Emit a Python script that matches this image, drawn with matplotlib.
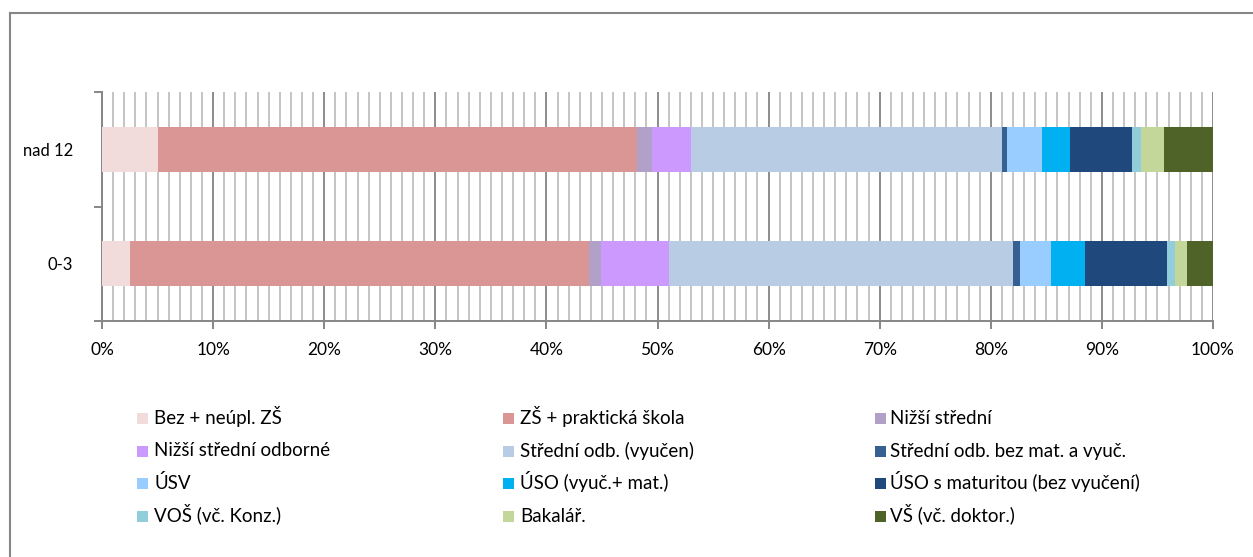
import matplotlib
matplotlib.use("Agg")
import matplotlib.pyplot as plt
from matplotlib.patches import Rectangle
from matplotlib.lines import Line2D
import numpy as np

plt.rcParams["font.family"] = ["Lato", "DejaVu Sans"]

# categories, bottom to top
categories = ["0-3", "nad 12"]

series_names = [
    "Bez + neúpl. ZŠ", "ZŠ + praktická škola", "Nižší střední",
    "Nižší střední odborné", "Střední odb. (vyučen)", "Střední odb. bez mat. a vyuč.",
    "ÚSV", "ÚSO (vyuč.+ mat.)", "ÚSO s maturitou (bez vyučení)",
    "VOŠ (vč. Konz.)", "Bakalář.", "VŠ (vč. doktor.)",
]
colors = [
    "#F2DCDB", "#DA9694", "#B1A0C7",
    "#CC99FF", "#B8CCE4", "#366092",
    "#99CCFF", "#00B0F0", "#1F497D",
    "#92CDDC", "#C4D79B", "#4F6228",
]

# shares in % for [0-3, nad 12]
values_0_3 = [2.52, 41.35, 1.05, 6.15, 30.96, 0.57, 2.84, 3.06, 7.40, 0.68, 1.11, 2.31]
values_nad12 = [5.00, 43.20, 1.35, 3.45, 28.05, 0.46, 3.10, 2.56, 5.55, 0.79, 2.10, 4.41]

data = np.array([values_0_3, values_nad12])
shares = data / data.sum(axis=1, keepdims=True)

W, H = 1253, 557
fig = plt.figure(figsize=(W / 100, H / 100), dpi=100)
ax = fig.add_axes([102 / W, 1 - 321 / H, 1111 / W, 229 / H])

ypos = np.arange(len(categories))
left = np.zeros(len(categories))
for i, name in enumerate(series_names):
    ax.barh(ypos, shares[:, i], left=left, height=0.39, color=colors[i],
            label=name, zorder=3, linewidth=0)
    left += shares[:, i]

ax.set_xlim(0, 1)
ax.set_ylim(-0.5, 1.5)

ax.set_xticks(np.arange(0, 1.01, 0.1))
ax.set_xticklabels([f"{int(round(t * 100))}%" for t in np.arange(0, 1.01, 0.1)], fontsize=12.5)
ax.set_xticks(np.arange(0, 1.001, 0.01), minor=True)
ax.grid(True, which="major", axis="x", color="#8C8C8C", linewidth=1.4, zorder=0)
ax.grid(True, which="minor", axis="x", color="#C4C4C4", linewidth=1.4, zorder=0)
ax.tick_params(axis="x", which="major", direction="out", length=6, color="#868686",
               width=1.4, pad=9)
ax.tick_params(axis="x", which="minor", length=0)

# category labels in the middle, ticks at boundaries
ax.set_yticks([-0.5, 0.5, 1.5])
ax.set_yticklabels([])
ax.set_yticks(ypos, minor=True)
ax.set_yticklabels(categories, minor=True, fontsize=12)
ax.tick_params(axis="y", which="major", direction="out", length=6, color="#868686", width=1.4)
ax.tick_params(axis="y", which="minor", length=0, pad=21)

for side in ["top", "right"]:
    ax.spines[side].set_visible(False)
for side in ["left", "bottom"]:
    ax.spines[side].set_color("#868686")
    ax.spines[side].set_linewidth(1.4)

# chart area border (left and top visible)
fig.add_artist(Line2D([9.5 / W, 9.5 / W], [0, 1 - 12.7 / H],
                      transform=fig.transFigure, color="#868686", linewidth=1.5))
fig.add_artist(Line2D([9.5 / W, 1], [1 - 12.7 / H, 1 - 12.7 / H],
                      transform=fig.transFigure, color="#868686", linewidth=1.5))

# legend: 3 columns x 4 rows, filled row by row
marker_x = [137, 503, 875]
text_x = [154, 520, 890]
baseline_y = [424, 456.5, 489, 521.5]
size = 11
for i, name in enumerate(series_names):
    r, c = divmod(i, 3)
    fig.add_artist(Rectangle((marker_x[c] / W, 1 - baseline_y[r] / H), size / W, size / H,
                             transform=fig.transFigure, facecolor=colors[i], edgecolor="none"))
    fig.text(text_x[c] / W, 1 - baseline_y[r] / H, name, fontsize=13.5,
             ha="left", va="baseline")

fig.savefig("out.png", dpi=100)
